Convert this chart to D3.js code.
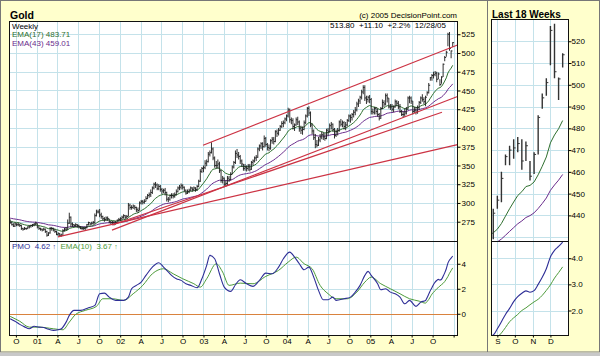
<!DOCTYPE html>
<html><head><meta charset="utf-8">
<script src="https://cdn.jsdelivr.net/npm/d3@7"></script>
<style>
body{margin:0;background:#FFFFCC;}
svg{display:block;font-family:"Liberation Sans",Arial,sans-serif;}
</style></head><body>
<svg id="c" width="600" height="356"></svg>
<script>
// ---------------- DATA ----------------
const startDate = "2000-09-06";            // first weekly bar (Wednesdays)
// weekly bars [high, low, close]
const bars2000 = [
[278,272,274],[275,270,271],[273,268,269],[274,268,272],
[273,269,271],[274,269,271],[272,268,270],[271,264,266],
[267,263,265],[268,264,266],[267,264,266],[269,265,268],[270,266,269],
[271,267,270],[272,268,271],[273,269,272],[275,270,273]];
const bars2001 = [
[273,266,268],[269,264,266],[267,263,265],[266,262,264],[267,263,265],
[266,260,262],[263,255,257],[261,256,260],[268,259,266],
[268,263,266],[267,262,264],[265,260,262],[263,257,258],
[261,256,259],[260,255,257],[259,255,257],[265,256,263],
[267,262,265],[268,263,265],[278,264,273],[287,272,281],[282,268,272],
[274,268,271],[272,268,270],[273,268,271],[272,267,270],
[271,266,268],[269,265,266],[268,264,266],[268,264,266],
[268,264,267],[272,266,271],[275,270,274],[274,270,272],[275,271,273],
[276,271,274],[286,272,283],[291,282,288],[291,286,288],
[292,281,284],[287,279,282],[283,277,279],[281,275,278],[282,276,280],
[282,276,279],[279,273,275],[276,272,274],[276,272,274],
[276,270,273],[276,271,274],[278,273,277],[280,275,278]];
const bars2002 = [
[281,276,279],[283,277,281],[285,279,283],[284,278,281],[284,279,282],
[300,282,297],[299,291,294],[297,291,294],[298,292,296],
[297,291,294],[295,288,291],[294,287,290],[302,290,300],
[304,298,302],[304,298,301],[305,299,302],[309,302,306],
[312,305,310],[314,307,311],[318,308,314],[322,312,320],[327,318,325],
[328,320,324],[326,317,319],[325,317,322],[324,315,318],
[320,312,316],[319,313,317],[320,310,314],[315,302,305],[308,301,305],
[311,303,310],[313,306,310],[313,306,309],[314,307,311],
[318,310,315],[322,314,320],[324,317,321],[326,318,323],
[325,318,321],[322,315,317],[318,311,313],[318,312,315],[319,313,317],
[322,316,320],[321,315,318],[322,316,320],[321,315,318],
[324,316,322],[331,321,329],[345,328,342],[348,340,346]];
const bars2003 = [
[350,341,347],[357,345,353],[358,349,355],[368,354,365],[370,362,367],
[381,366,372],[374,357,360],[362,347,350],[356,346,350],
[358,346,352],[355,340,343],[344,327,330],[336,326,333],
[334,321,325],[330,322,326],[336,324,333],[336,328,331],[341,330,338],
[350,338,348],[356,346,354],[370,352,366],[372,360,364],
[368,358,362],[364,352,356],[358,348,352],[352,343,346],
[352,343,348],[350,342,346],[352,343,349],[352,342,345],[356,344,354],
[358,350,356],[362,354,360],[364,356,361],[374,360,372],
[378,369,376],[381,372,379],[381,370,375],[390,374,386],
[388,375,378],[380,370,374],[378,369,373],[385,371,383],[388,379,385],
[388,378,382],[397,381,395],[398,388,393],[400,390,397],
[404,396,402],[409,400,406],[410,401,407],[414,405,412],[418,409,416]];
const bars2004 = [
[427,414,424],[426,407,411],[414,405,410],[413,398,402],
[406,396,404],[414,403,411],[415,404,408],[410,395,399],
[403,392,397],[402,391,398],[410,397,407],[418,405,416],[428,414,426],
[429,416,420],[422,401,404],[406,392,396],[398,384,387],
[392,373,378],[384,374,377],[388,376,384],[392,381,388],
[395,385,391],[394,384,388],[393,383,386],[399,385,397],[400,390,395],
[406,394,403],[408,398,405],[406,395,398],[400,386,390],
[398,388,395],[400,390,397],[410,395,408],[412,402,405],
[410,401,407],[409,398,402],[408,397,404],[412,402,410],[418,408,416],
[418,407,414],[420,410,418],[424,414,421],[428,417,424],
[435,422,432],[439,428,436],[443,432,441],[451,438,448],
[457,445,454],[457,436,440],[443,432,438],[443,434,441],[444,433,438]];
const bars2005 = [
[440,418,422],[426,418,421],[428,418,426],[428,418,422],
[426,415,418],[420,410,413],[428,412,426],[438,425,434],
[437,428,432],[446,430,443],[446,434,440],[440,426,428],[432,424,428],
[432,422,425],[430,421,428],[438,427,435],[437,429,433],
[436,425,428],[432,420,422],[424,416,418],[422,414,418],
[426,415,420],[428,418,425],[442,424,440],[443,433,440],[442,432,436],
[436,418,422],[428,420,424],[428,418,421],[430,419,427],
[436,424,434],[442,432,440],[445,435,438],[441,432,435],[443,429,441],
[449,443,447],[460,446,457],[468,463,467],[472,463,470],
[475,466,471],[476,469,473],[475,461,465],[474,465,472],
[465,456,458],[469,459,468],[486,468,485],[496,489,494],[503,495,501],
[527,509,525],[528,503,506],[503.4,493,502.7],[514.5,508,513.8]];

const ema17Seed = 276, ema43Seed = 280;

// PMO (weekly index, value)
const pmoWeeks = [0,3,6,9,12,15,18,21,23,27,30,32,35,37,40,44,49,53,56,59,62,66,71,74,76,79,82,85,89,93,96,98,101,104,107,110,113,117,120,123,125,128,131,134,138,141,144,148,152,156,160,164,168,171,175,178,181,184,187,190,193,196,199,202,204,209,213,216,219,222,224,226,230,232,235,238,241,244,247,250,254,257,260,261,262,263,264,265,266,267,268,269,270,271,272,273,274,275,276,277];
const pmoValues = [-0.4,-0.6,-0.85,-1.05,-1.2,-1.0,-1.07,-1.1,-1.2,-1.33,-1.28,-1.2,-0.67,-0.13,0.27,0.27,0.48,0.67,1.6,1.65,1.33,1.07,1.07,1.33,2.0,2.27,2.53,3.07,3.73,4.08,3.73,3.47,3.07,2.8,2.67,2.4,2.27,2.08,2.8,3.87,4.67,4.4,3.2,2.13,1.79,2.32,2.72,2.4,2.19,2.67,3.25,3.2,3.73,4.4,4.93,4.53,4.0,3.52,3.73,2.93,1.87,1.12,1.12,1.33,1.07,1.2,1.33,1.73,2.27,3.07,3.39,3.07,2.4,1.92,2.0,1.73,1.6,1.33,0.8,1.07,0.59,0.93,1.06,1.30,1.57,1.85,2.08,2.34,2.53,2.66,2.75,2.70,2.76,3.0,3.27,3.60,4.05,4.30,4.45,4.62];
const sigWeeks = [0,6,12,18,27,33,37,41,47,54,58,64,71,77,83,89,96,102,108,115,119,123,129,133,137,144,152,160,168,174,179,184,189,194,199,204,211,217,222,226,232,238,244,250,256,260,261,262,263,264,265,266,267,268,269,270,271,272,273,274,275,276,277];
const sigValues = [-0.21,-0.6,-1.07,-1.07,-1.2,-1.28,-0.67,-0.05,0.27,0.59,1.2,1.2,1.07,1.6,2.27,3.2,3.6,3.2,2.8,2.4,2.13,2.8,4.0,3.33,2.27,2.45,2.4,2.99,3.47,4.13,4.53,4.0,3.6,2.27,1.6,1.2,1.2,1.73,2.53,2.93,2.4,2.0,1.6,1.2,1.01,0.85,0.98,1.14,1.35,1.57,1.72,1.85,2.0,2.10,2.22,2.33,2.43,2.58,2.77,2.98,3.24,3.45,3.67];

// trend lines [date, price]
const trendLines = [
  [["2002-12-30",376.9],["2006-01-18",510.7]],
  [["2001-11-26",263.8],["2006-01-18",441.9]],
  [["2001-11-26",270.6],["2005-11-11",420.9]],
  [["2001-04-03",254.7],["2006-01-18",377.8]]
];

// ticks
const mainTickDates = ["2000-10-01","2001-01-01","2001-04-01","2001-07-01","2001-10-01","2002-01-01","2002-04-01","2002-07-01","2002-10-01","2003-01-01","2003-04-01","2003-07-01","2003-10-01","2004-01-01","2004-04-01","2004-07-01","2004-10-01","2005-01-01","2005-04-01","2005-07-01","2005-10-01","2006-01-01"];
const mainTickLabels = ["O","01","A","J","O","02","A","J","O","03","A","J","O","04","A","J","O","05","A","J","O",""];
const priceTicks = [275,300,325,350,375,400,425,450,475,500,525];
const pmoTicks = [0,2,4];
const rightTickDates = ["2005-09-01","2005-10-01","2005-11-01","2005-12-01"];
const rightTickLabels = ["S","O","N","D"];
const rightPriceTicks = [440,450,460,470,480,490,500,510,520];
const rightGridPrices = [430,440,450,460,470,480,490,500,510,520];
const rightPmoTicks = [2,3,4];

const headerInfo = "513.80  +11.10  +2.2%  12/28/05";
const ema17Label = "EMA(17) 483.71", ema43Label = "EMA(43) 459.01";
const pmoLabel = "4.62", sigLabel = "3.67";

// ---------------- DRAWING ----------------
const parse = d3.timeParse("%Y-%m-%d");
const t0 = parse(startDate);
const allBars = [].concat(bars2000,bars2001,bars2002,bars2003,bars2004,bars2005);
const weeks = allBars.map((b,i)=>({i, date:d3.timeDay.offset(t0,7*i), h:b[0], l:b[1], c:b[2]}));
function ema(vals,n,seed){const a=2/(n+1);let e=seed;return vals.map(v=>(e=e+a*(v-e)));}
const e17 = ema(weeks.map(d=>d.c),17,ema17Seed);
const e43 = ema(weeks.map(d=>d.c),43,ema43Seed);
weeks.forEach((d,i)=>{d.e17=e17[i];d.e43=e43[i];});
const dateOf = i => d3.timeDay.offset(t0,7*i);
const pmo = pmoWeeks.map((w,k)=>({date:dateOf(w),w,v:pmoValues[k]}));
const sig = sigWeeks.map((w,k)=>({date:dateOf(w),w,v:sigValues[k]}));

const svg = d3.select("#c");
const M={l:9.5,r:457.5,t:21.5,mid:241.5,b:335.5};
const R={l:491.5,r:568.5,t:19.5,mid:241.5,b:335.5};
const GRID="#c4e2ea", RED="#cc3344", GREEN="#2f6f2f", PURPLE="#6a2c8c", BLUE="#2e2e96", SIGG="#4d9a3a", ORANGE="#d9823e";

svg.append("rect").attr("width",600).attr("height",356).attr("fill","#FFFFCC");
// outer frame
svg.append("rect").attr("x",0.5).attr("y",0.5).attr("width",599).attr("height",351.5).attr("fill","none").attr("stroke","#777");
svg.append("line").attr("x1",487.5).attr("x2",487.5).attr("y1",0).attr("y2",352).attr("stroke","#777");
svg.append("rect").attr("x",0).attr("y",352.5).attr("width",600).attr("height",3.5).attr("fill","#c8c8c8");

const defs = svg.append("defs");
function clip(id,x0,y0,x1,y1){defs.append("clipPath").attr("id",id).append("rect").attr("x",x0).attr("y",y0).attr("width",x1-x0).attr("height",y1-y0);}
clip("cm",M.l,M.t,M.r,M.mid); clip("cp",M.l,M.mid,M.r,M.b);
clip("rm",R.l,R.t,R.r,R.mid); clip("rp",R.l,R.mid,R.r,R.b);

// ---- main scales
const x = d3.scaleTime().domain([parse("2000-09-03"),parse("2006-01-18")]).range([M.l,M.r]);
const y = d3.scaleLinear().domain([248.6,542.0]).range([M.mid,M.t]);
const yp = d3.scaleLinear().domain([-1.74,5.78]).range([M.b,M.mid]);

svg.append("rect").attr("x",M.l).attr("y",M.t).attr("width",M.r-M.l).attr("height",M.b-M.t).attr("fill","#fff");
const g = svg.append("g").attr("shape-rendering","crispEdges");
const mDates = mainTickDates.map(parse);
g.selectAll(".vg").data(mDates).join("line").attr("x1",d=>Math.round(x(d))+0.5).attr("x2",d=>Math.round(x(d))+0.5).attr("y1",M.t).attr("y2",M.b).attr("stroke",GRID);
g.selectAll(".hg").data(priceTicks).join("line").attr("x1",M.l).attr("x2",M.r).attr("y1",d=>Math.round(y(d))+0.5).attr("y2",d=>Math.round(y(d))+0.5).attr("stroke",GRID);
g.selectAll(".hp").data(pmoTicks.filter(v=>v!==0)).join("line").attr("x1",M.l).attr("x2",M.r).attr("y1",d=>Math.round(yp(d))+0.5).attr("y2",d=>Math.round(yp(d))+0.5).attr("stroke",GRID);
g.append("line").attr("x1",M.l).attr("x2",M.r).attr("y1",Math.round(yp(0))+0.5).attr("y2",Math.round(yp(0))+0.5).attr("stroke",ORANGE).attr("stroke-width",1.2);

// price bars main
const pm = svg.append("g").attr("clip-path","url(#cm)");
const line = (xs,ys,acc)=>d3.line().x(d=>xs(d.date)).y(d=>ys(acc(d)));
pm.append("path").datum(weeks).attr("d",line(x,y,d=>d.e43)).attr("fill","none").attr("stroke",PURPLE).attr("stroke-width",1);
pm.append("path").datum(weeks).attr("d",line(x,y,d=>d.e17)).attr("fill","none").attr("stroke",GREEN).attr("stroke-width",1);
pm.selectAll(".b").data(weeks).join("line").attr("x1",d=>x(d.date)).attr("x2",d=>x(d.date)).attr("y1",d=>y(d.h)).attr("y2",d=>y(d.l)).attr("stroke","#1a1a1a").attr("stroke-width",0.9);
pm.selectAll(".ct").data(weeks).join("line").attr("x1",d=>x(d.date)).attr("x2",d=>x(d.date)+1.4).attr("y1",d=>y(d.c)).attr("y2",d=>y(d.c)).attr("stroke","#1a1a1a").attr("stroke-width",0.9);
pm.selectAll(".tl").data(trendLines).join("line")
  .attr("x1",d=>x(parse(d[0][0]))).attr("y1",d=>y(d[0][1])).attr("x2",d=>x(parse(d[1][0]))).attr("y2",d=>y(d[1][1]))
  .attr("stroke",RED).attr("stroke-width",1.2);

// PMO main
const pp = svg.append("g").attr("clip-path","url(#cp)");
pp.append("path").datum(sig).attr("d",d3.line().curve(d3.curveMonotoneX).x(d=>x(d.date)).y(d=>yp(d.v))).attr("fill","none").attr("stroke",SIGG).attr("stroke-width",1);
pp.append("path").datum(pmo).attr("d",d3.line().curve(d3.curveMonotoneX).x(d=>x(d.date)).y(d=>yp(d.v))).attr("fill","none").attr("stroke",BLUE).attr("stroke-width",1.1);

// frames main
const f = svg.append("g").attr("shape-rendering","crispEdges");
f.append("rect").attr("x",M.l).attr("y",M.t).attr("width",M.r-M.l).attr("height",M.b-M.t).attr("fill","none").attr("stroke","#111");
f.append("line").attr("x1",M.l).attr("x2",M.r).attr("y1",M.mid).attr("y2",M.mid).attr("stroke","#111");

function styleAxis(sel){sel.select(".domain").remove();sel.selectAll("text").attr("font-size",8).attr("fill","#000").attr("font-family","Liberation Sans, Arial, sans-serif");sel.selectAll("line").attr("stroke","#000");}
svg.append("g").attr("transform",`translate(${M.r},0)`).call(d3.axisRight(y).tickValues(priceTicks).tickSize(3).tickPadding(1)).call(styleAxis);
svg.append("g").attr("transform",`translate(${M.r},0)`).call(d3.axisRight(yp).tickValues(pmoTicks).tickSize(3).tickPadding(1)).call(styleAxis);
svg.append("g").attr("transform",`translate(0,${M.b})`).call(d3.axisBottom(x).tickValues(mDates).tickFormat((d,i)=>mainTickLabels[i]).tickSize(2).tickPadding(1)).call(styleAxis);

// ---- right panel
const shift = -6; // bars plotted at start of week
const rx = d3.scaleTime().domain([parse("2005-08-22"),parse("2006-01-01")]).range([R.l,R.r]);
const ry = d3.scaleLinear().domain([428,530]).range([R.mid,R.t]);
const ryp = d3.scaleLinear().domain([1.044,4.64]).range([R.b,R.mid]);
const rsh = d=>d3.timeDay.offset(d,shift);
svg.append("rect").attr("x",R.l).attr("y",R.t).attr("width",R.r-R.l).attr("height",R.b-R.t).attr("fill","#fff");
const rg = svg.append("g").attr("shape-rendering","crispEdges");
const rDates = rightTickDates.map(parse);
rg.selectAll(".vg").data(rDates).join("line").attr("x1",d=>Math.round(rx(d))+0.5).attr("x2",d=>Math.round(rx(d))+0.5).attr("y1",R.t).attr("y2",R.b).attr("stroke",GRID);
rg.selectAll(".hg").data(rightGridPrices).join("line").attr("x1",R.l).attr("x2",R.r).attr("y1",d=>Math.round(ry(d))+0.5).attr("y2",d=>Math.round(ry(d))+0.5).attr("stroke",GRID);
rg.selectAll(".hp").data(rightPmoTicks).join("line").attr("x1",R.l).attr("x2",R.r).attr("y1",d=>Math.round(ryp(d))+0.5).attr("y2",d=>Math.round(ryp(d))+0.5).attr("stroke",GRID);

const last = weeks.slice(weeks.length-19);
const rm = svg.append("g").attr("clip-path","url(#rm)");
rm.append("path").datum(last).attr("d",d3.line().x(d=>rx(rsh(d.date))).y(d=>ry(d.e43))).attr("fill","none").attr("stroke",PURPLE).attr("stroke-width",1);
rm.append("path").datum(last).attr("d",d3.line().x(d=>rx(rsh(d.date))).y(d=>ry(d.e17))).attr("fill","none").attr("stroke",GREEN).attr("stroke-width",1);
const lastBars = weeks.slice(weeks.length-18);
rm.selectAll(".b").data(lastBars).join("line").attr("x1",d=>rx(rsh(d.date))).attr("x2",d=>rx(rsh(d.date))).attr("y1",d=>ry(d.h)).attr("y2",d=>ry(d.l)).attr("stroke","#333").attr("stroke-width",1.4);
rm.selectAll(".ct").data(lastBars).join("line").attr("x1",d=>rx(rsh(d.date))).attr("x2",d=>rx(rsh(d.date))+2).attr("y1",d=>ry(d.c)).attr("y2",d=>ry(d.c)).attr("stroke","#333").attr("stroke-width",1);

const rp = svg.append("g").attr("clip-path","url(#rp)");
const rpm = pmo.filter(d=>d.w>=257), rsg = sig.filter(d=>d.w>=256);
rp.append("path").datum(rsg).attr("d",d3.line().curve(d3.curveMonotoneX).x(d=>rx(rsh(d.date))).y(d=>ryp(d.v))).attr("fill","none").attr("stroke",SIGG).attr("stroke-width",1);
rp.append("path").datum(rpm).attr("d",d3.line().curve(d3.curveMonotoneX).x(d=>rx(rsh(d.date))).y(d=>ryp(d.v))).attr("fill","none").attr("stroke",BLUE).attr("stroke-width",1.1);

const rf = svg.append("g").attr("shape-rendering","crispEdges");
rf.append("rect").attr("x",R.l).attr("y",R.t).attr("width",R.r-R.l).attr("height",R.b-R.t).attr("fill","none").attr("stroke","#111");
rf.append("line").attr("x1",R.l).attr("x2",R.r).attr("y1",R.mid).attr("y2",R.mid).attr("stroke","#111");
svg.append("g").attr("transform",`translate(${R.r},0)`).call(d3.axisRight(ry).tickValues(rightPriceTicks).tickSize(3).tickPadding(0)).call(styleAxis);
svg.append("g").attr("transform",`translate(${R.r},0)`).call(d3.axisRight(ryp).tickValues(rightPmoTicks).tickSize(3).tickPadding(0)).call(styleAxis);
svg.append("g").attr("transform",`translate(0,${R.b})`).call(d3.axisBottom(rx).tickValues(rDates).tickFormat((d,i)=>rightTickLabels[i]).tickSize(2).tickPadding(1)).call(styleAxis);

// ---- texts
const T = (x0,y0,s,opt={})=>svg.append("text").attr("x",x0).attr("y",y0).attr("font-size",opt.size||8).attr("font-weight",opt.bold?"bold":null).attr("fill",opt.fill||"#000").attr("text-anchor",opt.anchor||"start").style("white-space","pre").text(s);
T(10,19,"Gold",{size:10.5,bold:true});
T(492,17.5,"Last 18 Weeks",{size:10,bold:true});
T(457,17.5,"(c) 2005 DecisionPoint.com",{anchor:"end"});
T(446,28,headerInfo,{anchor:"end"});
T(12,29,"Weekly");
T(12,37,ema17Label,{fill:GREEN});
T(12,45.5,ema43Label,{fill:PURPLE});
const lg = svg.append("text").attr("x",12).attr("y",248.5).attr("font-size",8).style("white-space","pre");
lg.append("tspan").attr("fill",BLUE).text("PMO  "+pmoLabel+" ");
lg.append("tspan").attr("fill",BLUE).attr("font-size",7).text("\u2191");
lg.append("tspan").attr("fill",SIGG).text("  EMA(10)  "+sigLabel+" ");
lg.append("tspan").attr("fill",SIGG).attr("font-size",7).text("\u2191");
</script>
</body></html>
